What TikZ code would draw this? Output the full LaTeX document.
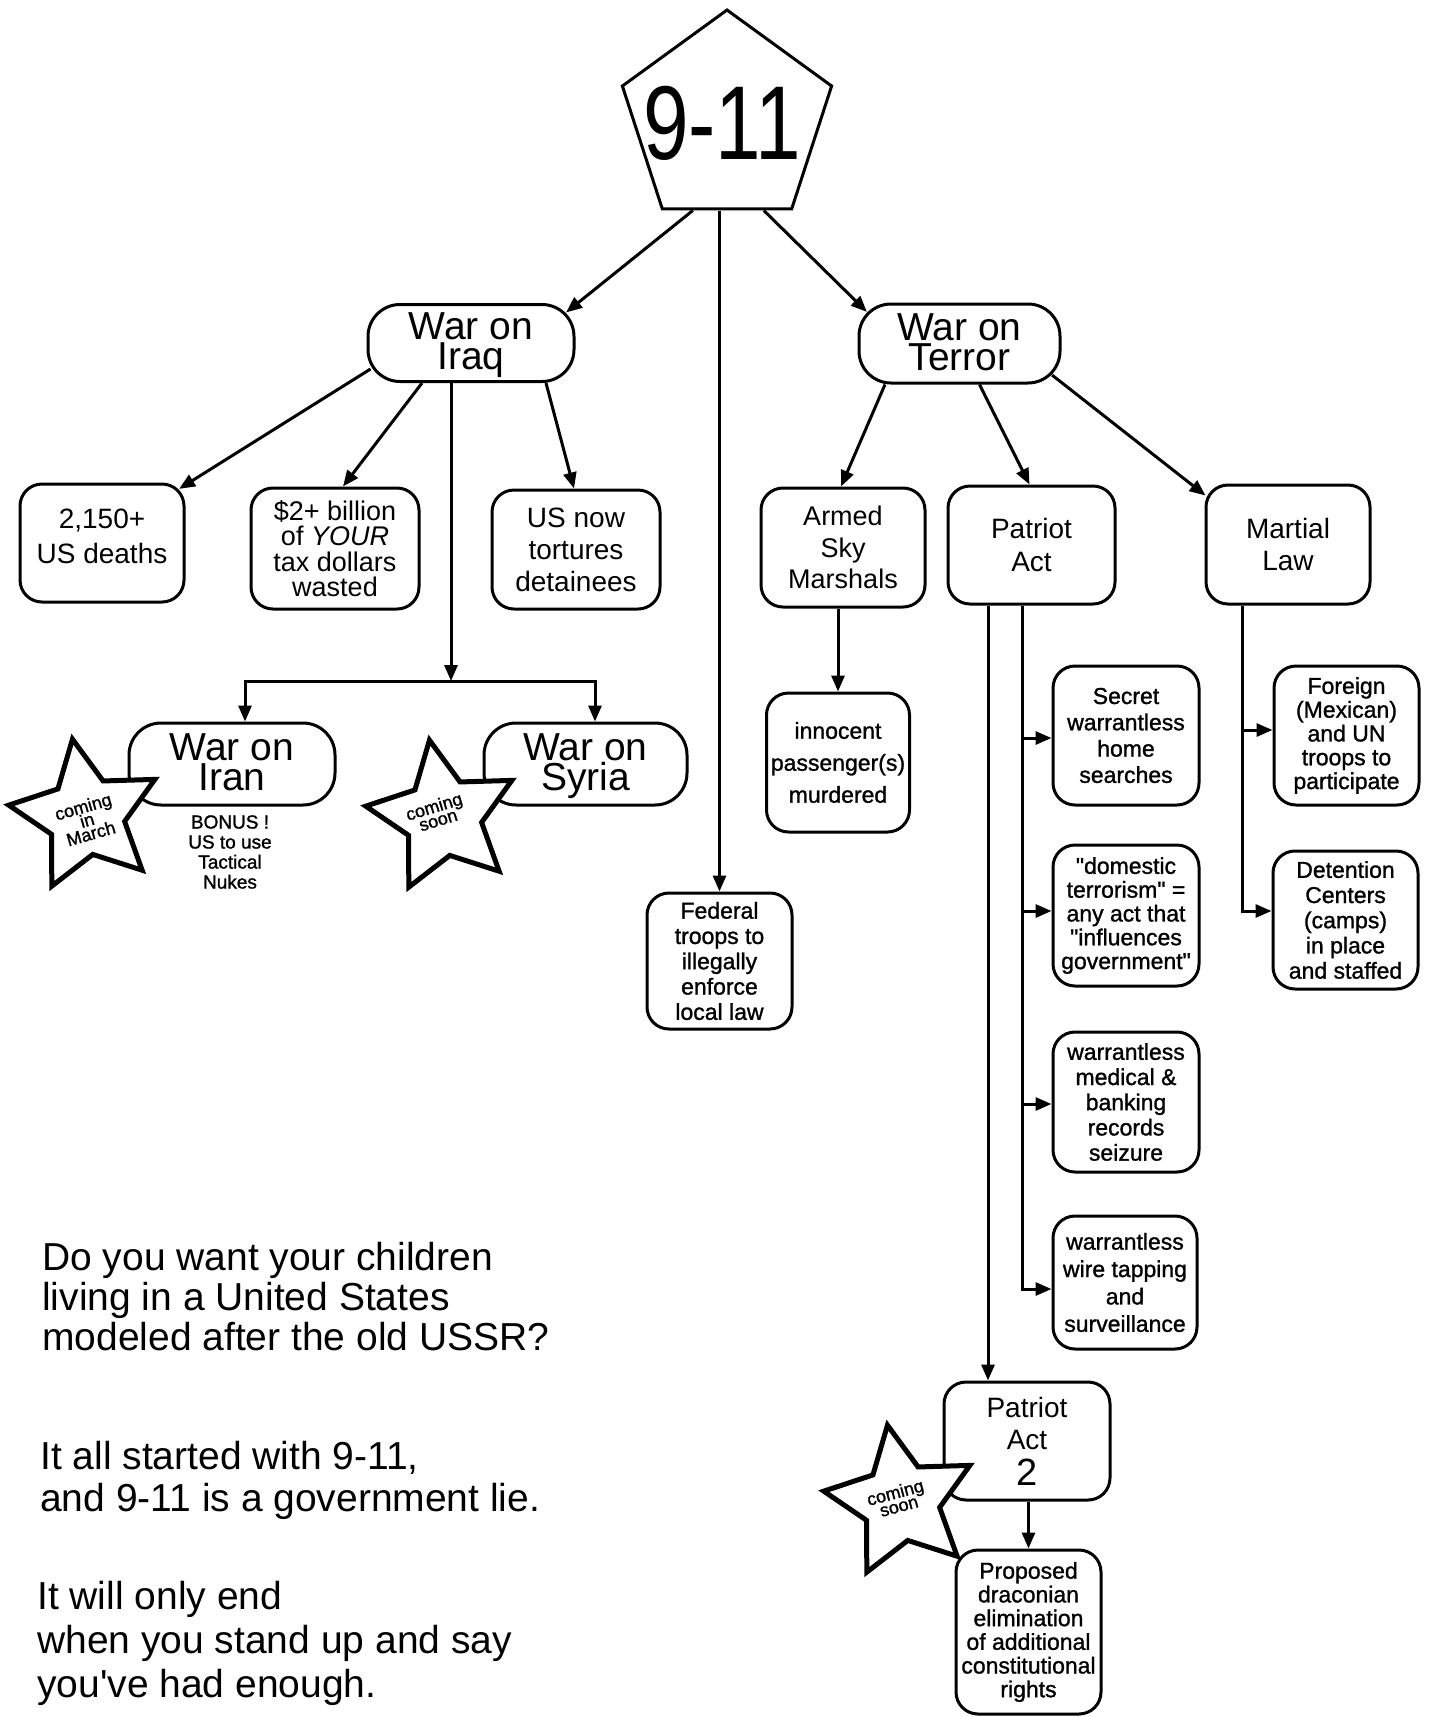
\documentclass[tikz,border=0pt]{standalone}
\usepackage{fontspec}
\setmainfont{Liberation Sans}
\newfontfamily\heavy[FakeBold=1.2]{Liberation Sans}
\usetikzlibrary{arrows.meta,calc,shapes.geometric}
\pgfdeclarelayer{bg}
\pgfsetlayers{bg,main}
\tikzset{
  box/.style={draw, line width=3pt, rounded corners=22pt, fill=white, align=center, inner sep=0pt},
  bigbox/.style={box, rounded corners=32pt, text depth=3pt, font=\fontsize{39}{30}\selectfont},
  conn/.style={line width=3pt, -{Triangle[length=16pt,width=13pt]}},
  starline/.style={draw, line width=5pt, fill=white, line join=miter},
  startext/.style={font=\heavy\fontsize{18}{14}\selectfont, align=center, inner sep=0pt},
  prose/.style={align=left, inner sep=0pt, anchor=north west},
  mystar/.pic={\path[starline] (-100:78) -- (-64:39) -- (-28:78) -- (8:39) -- (44:78) -- (80:39) -- (116:78) -- (152:39) -- (188:78) -- (224:39) -- cycle;}
}
\begin{document}
\lineskiplimit=-100pt
\begin{tikzpicture}[x=1pt,y=-1pt]
\begin{pgfonlayer}{bg}
\fill[white] (0,0) rectangle (1428,1717);
\end{pgfonlayer}
\path[use as bounding box] (0,0) rectangle (1428,1717);

% top
\node[regular polygon, regular polygon sides=5, draw, line width=3pt, minimum size=220pt, inner sep=0pt, fill=white] (nine) at (727,120) {};
\node[font=\fontsize{105}{105}\selectfont, inner sep=0pt] (ninetext) at (722,123) {\scalebox{0.78}[1]{9-11}};

\node[bigbox, minimum width=206pt, minimum height=77pt] (iraq) at (471,343) {War on\\Iraq};
\node[bigbox, minimum width=201pt, minimum height=79pt] (terror) at (959.5,343.5) {War on\\Terror};

% row 2
\node[box, text depth=13pt, font=\fontsize{28}{35}\selectfont, minimum width=164pt, minimum height=118pt] (deaths) at (102,543) {2,150+\\US deaths};
\node[box, font=\fontsize{27}{25.5}\selectfont, minimum width=168pt, minimum height=121pt] (billion) at (335,548.5) {\$2+ billion\\of \textit{YOUR}\\tax dollars\\wasted};
\node[box, font=\fontsize{28}{32}\selectfont, minimum width=168pt, minimum height=119pt] (torture) at (576,549.5) {US now\\tortures\\detainees};
\node[box, font=\fontsize{27}{31.5}\selectfont, minimum width=164pt, minimum height=119pt] (asm) at (843,547.5) {Armed\\Sky\\Marshals};
\node[box, font=\fontsize{28}{33}\selectfont, minimum width=167pt, minimum height=118pt] (patriot) at (1031.5,545) {Patriot\\Act};
\node[box, font=\fontsize{28}{32}\selectfont, minimum width=164pt, minimum height=119pt] (martial) at (1288,544.5) {Martial\\Law};

% iran / syria
\node[bigbox, minimum width=206pt, minimum height=82pt] (iran) at (232,764) {War on\\Iran};
\node[bigbox, minimum width=203pt, minimum height=82pt] (syria) at (585.5,764) {War on\\Syria};
\node[font=\heavy\fontsize{19}{20}\selectfont, align=center, inner sep=0pt] (bonus) at (230,852) {BONUS !\\US to use\\Tactical\\Nukes};

% middle
\node[box, font=\heavy\fontsize{23}{32}\selectfont, minimum width=143pt, minimum height=139pt] (innocent) at (838,762.5) {innocent\\passenger(s)\\murdered};
\node[box, font=\heavy\fontsize{23}{25.3}\selectfont, minimum width=145pt, minimum height=136pt] (federal) at (719.5,961) {Federal\\troops to\\illegally\\enforce\\local law};

% patriot act children
\node[box, font=\heavy\fontsize{23}{26.3}\selectfont, minimum width=146pt, minimum height=139pt] (secret) at (1126,735.5) {Secret\\warrantless\\home\\searches};
\node[box, font=\heavy\fontsize{23}{23.8}\selectfont, minimum width=146pt, minimum height=141pt] (domestic) at (1126,915.5) {\textquotedbl domestic\\terrorism\textquotedbl\ =\\any act that\\\textquotedbl influences\\government\textquotedbl};
\node[box, font=\heavy\fontsize{23}{25.2}\selectfont, minimum width=146pt, minimum height=140pt] (medical) at (1126,1102) {warrantless\\medical \&\\banking\\records\\seizure};
\node[box, font=\heavy\fontsize{23}{27.4}\selectfont, minimum width=144pt, minimum height=133pt] (wire) at (1125,1282.5) {warrantless\\wire tapping\\and\\surveillance};

% martial law children
\node[box, font=\heavy\fontsize{23}{23.8}\selectfont, minimum width=145pt, minimum height=139pt] (foreign) at (1346.5,735.5) {Foreign\\(Mexican)\\and UN\\troops to\\participate};
\node[box, font=\heavy\fontsize{23}{25.2}\selectfont, minimum width=145pt, minimum height=138pt] (detention) at (1345.5,920) {Detention\\Centers\\(camps)\\in place\\and staffed};

% patriot act 2
\node[box, font=\fontsize{28}{32}\selectfont, minimum width=166pt, minimum height=118pt] (pa2) at (1027,1441) {Patriot\\Act\\[4pt]{\fontsize{38}{38}\selectfont 2}};
\node[box, font=\heavy\fontsize{23}{23.7}\selectfont, minimum width=145pt, minimum height=164pt] (proposed) at (1028.5,1632) {Proposed\\draconian\\elimination\\of additional\\constitutional\\rights};

% stars
\pic at (86,816) {mystar};
\node[startext, rotate=16] (starA) at (87,820) {coming\\in\\March};
\pic at (443,817) {mystar};
\node[startext, rotate=17] (starB) at (436,813) {coming\\soon};
\pic at (901,1502) {mystar};
\node[startext, rotate=15] (starC) at (897,1499) {coming\\soon};

% prose
\node[prose, font=\fontsize{39}{40}\selectfont] (q1) at (42,1242) {Do you want your children\\living in a United States\\modeled after the old USSR?};
\node[prose, font=\fontsize{39}{42}\selectfont] (q2) at (40,1441) {It all started with 9-11,\\and 9-11 is a government lie.};
\node[prose, font=\fontsize{39}{44}\selectfont] (q3) at (37,1581) {It will only end\\when you stand up and say\\you\textquotesingle ve had enough.};

% connectors
\coordinate (jn) at (451,681);
\coordinate (jl) at (245,681);
\coordinate (jr) at (595,681);
\coordinate (pl) at (988,600);
\coordinate (pr) at (1022,600);
\coordinate (ml) at (1242,600);
\begin{pgfonlayer}{bg}
\draw[conn] ($(nine.corner 3)!0.24!(nine.corner 4)$) -- ($(iraq.north east)+(-9.4,9.4)$);
\draw[conn] ($(nine.corner 3)!0.78!(nine.corner 4)$) -- ($(terror.north west)+(9.4,9.4)$);
\draw[conn] (nine.south -| federal.north) -- (federal.north);

\draw[conn] ($(iraq.south west)+(4,-14)$) -- ($(deaths.north east)+(-6.4,6.4)$);
\draw[conn] ($(iraq.south)+(-49,0)$) -- ($(billion.north)+(8,0)$);
\draw[conn] ($(iraq.south)+(75,0)$) -- ($(torture.north)+(-2,0)$);
\draw[conn] (iraq.south -| jn) -- (jn);
\draw[line width=3pt, line join=miter, {Triangle[length=16pt,width=13pt]}-{Triangle[length=16pt,width=13pt]}] (jl |- iran.north) -- (jl) -- (jr) -- (jr |- syria.north);

\draw[conn] ($(terror.south)+(-74.5,0)$) -- ($(asm.north)+(-2,0)$);
\draw[conn] ($(terror.south)+(20,0)$) -- ($(patriot.north)+(-2,0)$);
\draw[conn] ($(terror.south east)+(-9.4,-9.4)$) -- ($(martial.north west)+(1,12)$);

\draw[conn] (asm.south -| innocent.north) -- (innocent.north);

\draw[conn] (patriot.south -| pl) -- (pl |- pa2.north);
\draw[conn, line join=miter] (patriot.south -| pr) |- ($(wire.west)+(0,6.5)$);
\draw[conn] (pr |- secret.west) ++(0,2.5) -- ($(secret.west)+(0,2.5)$);
\draw[conn] (pr |- domestic.west) ++(0,-4.5) -- ($(domestic.west)+(0,-4.5)$);
\draw[conn] (pr |- medical.west) ++(0,2) -- ($(medical.west)+(0,2)$);

\draw[conn, line join=miter] (martial.south -| ml) |- ($(detention.west)+(0,-9)$);
\draw[conn] (ml |- foreign.west) ++(0,-5.5) -- ($(foreign.west)+(0,-5.5)$);

\draw[conn] (pa2.south -| proposed.north) -- (proposed.north);
\end{pgfonlayer}
\end{tikzpicture}
\end{document}
